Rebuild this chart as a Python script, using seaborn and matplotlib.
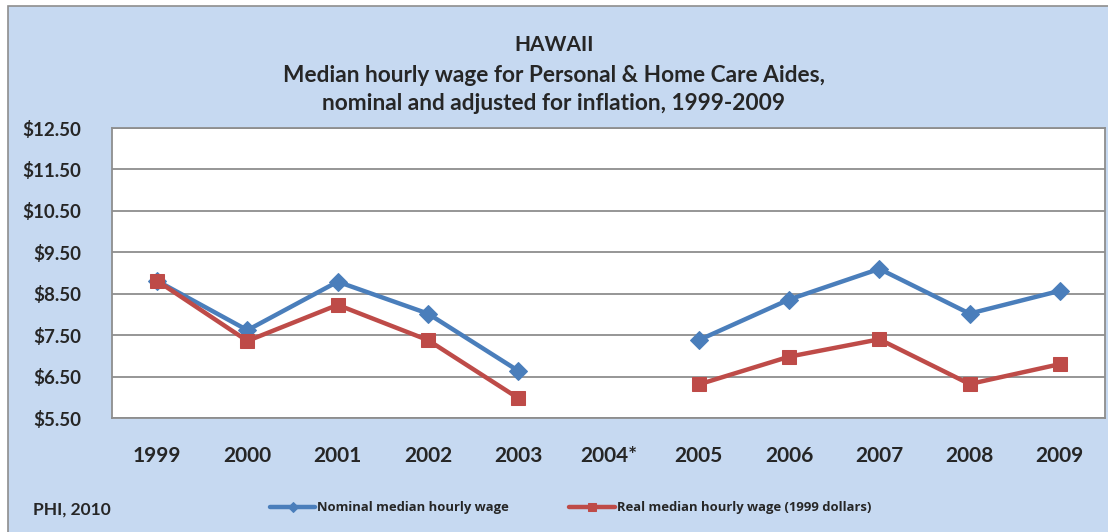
import numpy as np
import pandas as pd
import matplotlib
matplotlib.use("Agg")
import matplotlib.pyplot as plt
import seaborn as sns

# values (2004 has no data)
years = ["1999", "2000", "2001", "2002", "2003", "2004*", "2005", "2006", "2007", "2008", "2009"]
nominal = [8.81, 7.62, 8.79, 8.02, 6.64, np.nan, 7.38, 8.36, 9.10, 8.02, 8.57]
real = [8.81, 7.36, 8.23, 7.38, 5.98, np.nan, 6.31, 6.98, 7.40, 6.32, 6.80]
yticks = [5.5, 6.5, 7.5, 8.5, 9.5, 10.5, 11.5, 12.5]

blue = "#4A7EBB"
red = "#BE4B48"
bg = "#C6D9F1"

df = pd.DataFrame({"pos": range(len(years)), "nominal": nominal, "real": real})
# break the lines at the missing year
df["seg"] = df["nominal"].isna().cumsum()
df = df.dropna()

sns.set_style("white")
plt.rcParams["font.family"] = ["Lato", "DejaVu Sans"]

fig = plt.figure(figsize=(11.08, 5.32), dpi=100)
fig.patch.set_facecolor("white")
# the chart frame
fig.add_artist(plt.Rectangle((8 / 1108, -0.01), 1.02, (532 - 6) / 532 + 0.01,
                             transform=fig.transFigure, facecolor=bg,
                             edgecolor="#8E8E8E", linewidth=1.2, zorder=-1))

ax = fig.add_axes([112 / 1108, 1 - 418 / 532, (1105 - 112) / 1108, (418 - 128) / 532])
ax.set_facecolor("white")

for i, (seg, part) in enumerate(df.groupby("seg")):
    sns.lineplot(data=part, x="pos", y="nominal", ax=ax, color=blue, linewidth=3.2,
                 marker="D", markersize=9.5, markeredgecolor=blue,
                 label="Nominal median hourly wage" if i == 0 else None)
    sns.lineplot(data=part, x="pos", y="real", ax=ax, color=red, linewidth=3.2,
                 marker="s", markersize=10, markeredgecolor=red,
                 label="Real median hourly wage (1999 dollars)" if i == 0 else None)

ax.set_xlim(-0.5, len(years) - 0.5)
ax.set_ylim(5.5, 12.5)
ax.set_yticks(yticks)
ax.set_yticklabels([f"${v:.2f}" for v in yticks], fontsize=13.5, fontweight="bold")
ax.set_xticks(range(len(years)))
ax.set_xticklabels(years, fontsize=15, fontweight="bold")
ax.tick_params(axis="y", length=0, pad=22)
ax.tick_params(axis="x", length=0, pad=20)
ax.grid(axis="y", color="#8E8E8E", linewidth=1.3)
ax.set_axisbelow(True)
for s in ax.spines.values():
    s.set_color("#8E8E8E")
    s.set_linewidth(1.3)
ax.set_xlabel("")
ax.set_ylabel("")

handles, labels = ax.get_legend_handles_labels()
ax.legend_.remove()
fig.legend(handles, labels, loc="center left", bbox_to_anchor=(258 / 1108, 1 - 508 / 532),
           ncol=2, frameon=False, handlelength=3.5, columnspacing=4.6,
           handletextpad=0.15, prop={"weight": "bold", "size": 9.4, "family": "Open Sans"},
           markerscale=0.55)

fig.text(33 / 1108, 1 - 510 / 532, "PHI, 2010", fontsize=12.5, fontweight="bold", va="center")

fig.text(554 / 1108, 1 - 45 / 532, "HAWAII", fontsize=15, fontweight="bold", ha="center", va="center")
fig.text(554 / 1108, 1 - 75 / 532, "Median hourly wage for Personal & Home Care Aides,",
         fontsize=16.3, fontweight="bold", ha="center", va="center")
fig.text(554 / 1108, 1 - 104 / 532, "nominal and adjusted for inflation, 1999-2009",
         fontsize=16.3, fontweight="bold", ha="center", va="center")

fig.savefig("out.png", dpi=100, facecolor=fig.get_facecolor())
